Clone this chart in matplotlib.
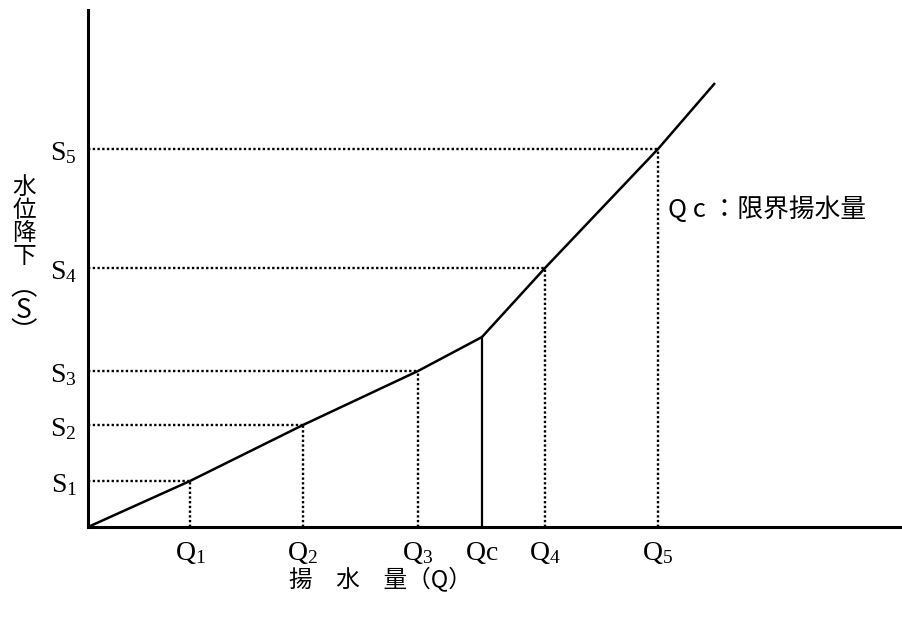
import matplotlib
matplotlib.use("Agg")
import matplotlib.pyplot as plt

# drawdown curve (pixel offsets from the origin)
q_names = ["Q1", "Q2", "Q3", "Qc", "Q4", "Q5"]
q_vals = [102, 215, 330, 394, 457, 570]
s_vals = [46, 102, 156, 190, 259, 378]
s_names = ["S1", "S2", "S3", "S4", "S5"]
curve_x = [0, 102, 215, 330, 394, 457, 570, 627]
curve_y = [0, 46, 102, 156, 190, 259, 378, 444]

cjk = ["Noto Sans CJK JP", "DejaVu Sans"]
plt.rcParams["mathtext.fontset"] = "custom"
plt.rcParams["mathtext.rm"] = "Liberation Serif"
plt.rcParams["mathtext.it"] = "Liberation Serif"

fig = plt.figure(figsize=(9.03, 6.22), dpi=100)
ax = fig.add_axes([88 / 903, 95 / 622, 815 / 903, 517 / 622])
ax.set_xlim(0, 815)
ax.set_ylim(0, 517)

ax.plot(curve_x, curve_y, color="black", lw=1.8, solid_capstyle="butt")

dots = (0, (1, 1))
for name, q, s in zip(q_names, q_vals, s_vals):
    if name == "Qc":
        ax.plot([q, q], [0, s], color="black", lw=1.6)
        continue
    ax.plot([q, q], [0, s], color="black", lw=1.7, ls=dots)
    ax.plot([0, q], [s, s], color="black", lw=1.7, ls=dots)

for spine in ["top", "right"]:
    ax.spines[spine].set_visible(False)
for spine in ["left", "bottom"]:
    ax.spines[spine].set_linewidth(2.2)

ax.set_xticks(q_vals)
ax.set_xticklabels([r"$\mathrm{%s}_{%s}$" % (n[0], n[1:]) if n != "Qc" else r"$\mathrm{Q}\mathrm{c}$"
                    for n in q_names], fontsize=20)
s_ticks = [s for n, s in zip(q_names, s_vals) if n != "Qc"]
ax.set_yticks(s_ticks)
ax.set_yticklabels([r"$\mathrm{%s}_{%s}$" % (n[0], n[1:]) for n in s_names], fontsize=20)
ax.tick_params(length=0, pad=8)

fig.text(380 / 903, 1 - 580 / 622, "揚　水　量（Q）", family=cjk, fontsize=17,
         ha="center", va="center")
fig.text(24 / 903, 1 - 222 / 622, "水\n位\n降\n下", family=cjk, fontsize=17,
         ha="center", va="center", linespacing=1.0)
fig.text(24 / 903, 1 - 310 / 622, "︵\nS\n︶", family=cjk, fontsize=19,
         ha="center", va="center", linespacing=0.8)
ax.text(580, 527 - 210, "Q c ：限界揚水量", family=cjk, fontsize=18.5,
        ha="left", va="center")

fig.savefig("out.png", dpi=100)
